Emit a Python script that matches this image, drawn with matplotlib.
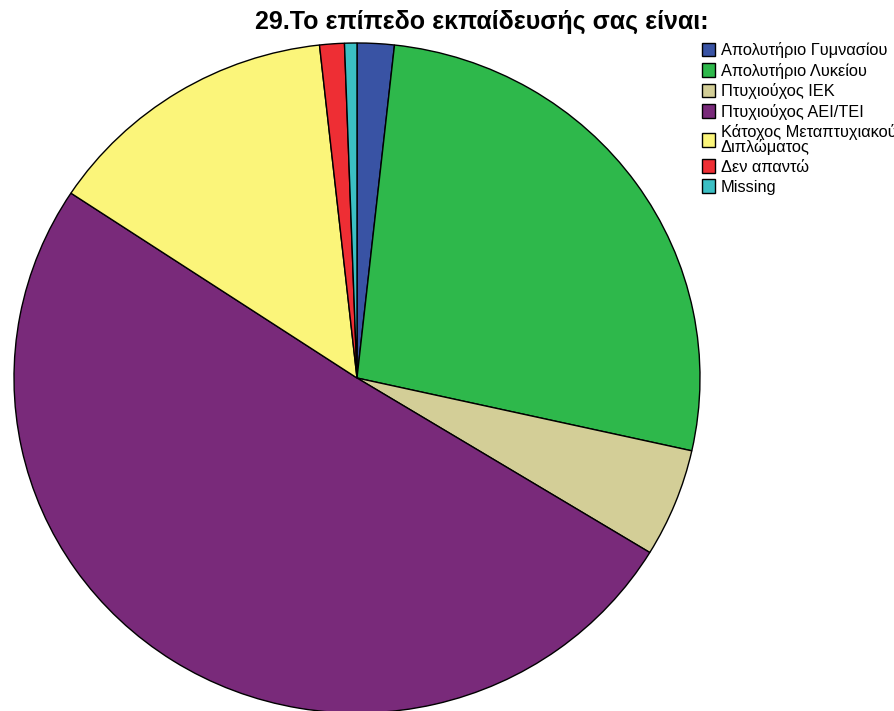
import matplotlib.pyplot as plt

# education level counts
labels = ['Απολυτήριο Γυμνασίου', 'Απολυτήριο Λυκείου', 'Πτυχιούχος ΙΕΚ',
          'Πτυχιούχος ΑΕΙ/ΤΕΙ', 'Κάτοχος Μεταπτυχιακού\nΔιπλώματος',
          'Δεν απαντώ', 'Missing']
counts = [3, 46, 9, 87, 24, 2, 1]
colors = ['#3953a4', '#2eb84b', '#d3ce97', '#792a7a', '#fbf57a', '#ee2e34', '#3bbfc4']

plt.rcParams['font.family'] = ['Liberation Sans', 'DejaVu Sans']

fig = plt.figure(figsize=(8.95, 7.11), dpi=100)
# axes placed so the pie fills the left part of the figure
ax = fig.add_axes([14 / 895, -2 / 711, 686 / 895, 670 / 711])
wedges, _ = ax.pie(counts, colors=colors, startangle=90, counterclock=False,
                   wedgeprops=dict(edgecolor='black', linewidth=1))
ax.set_aspect('auto')
ax.set_xlim(-1, 1)
ax.set_ylim(-1, 1)
ax.axis('off')

fig.text(482 / 895, 1 - 22 / 711, '29.Το επίπεδο εκπαίδευσής σας είναι:',
         ha='center', va='center', fontsize=18, fontweight='bold')

leg = fig.legend(wedges, labels, loc='upper left', bbox_to_anchor=(702 / 895, 1 - 42 / 711),
                 frameon=False, fontsize=11.8, handlelength=0.8, handleheight=0.9,
                 handletextpad=0.35, labelspacing=0.28, borderaxespad=0, borderpad=0)
for t in leg.get_texts():
    t.set_linespacing(0.88)

fig.savefig('out.png', dpi=100)
